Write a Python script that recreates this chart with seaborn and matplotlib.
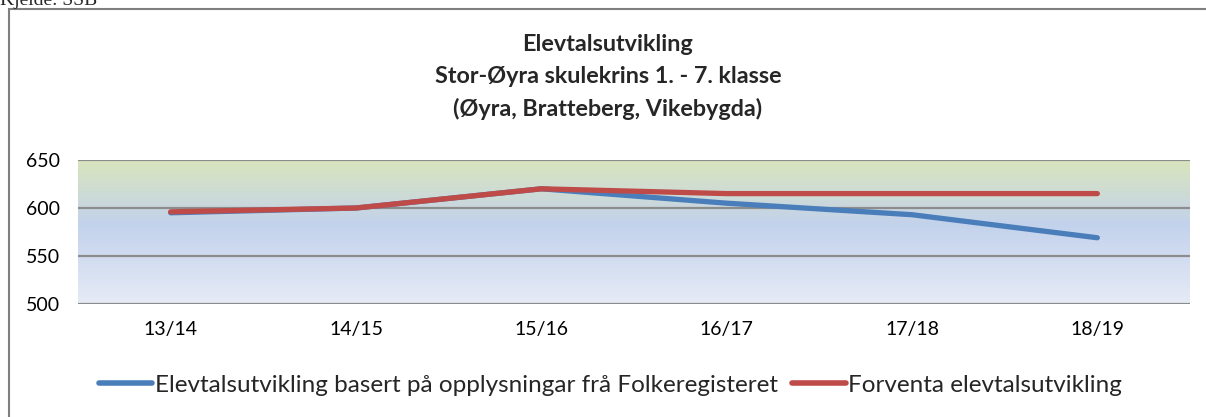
import numpy as np
import pandas as pd
import matplotlib
matplotlib.use("Agg")
import matplotlib.pyplot as plt
from matplotlib.colors import LinearSegmentedColormap
from matplotlib.patches import Rectangle
import seaborn as sns

years = ["13/14", "14/15", "15/16", "16/17", "17/18", "18/19"]
folkeregister = [595, 600, 620, 605, 593, 569]
forventa = [596, 600, 620, 615, 615, 615]
series_names = ["Elevtalsutvikling basert på opplysningar frå Folkeregisteret",
                "Forventa elevtalsutvikling"]
yticks = [500, 550, 600, 650]
title = "Elevtalsutvikling\nStor-Øyra skulekrins 1. - 7. klasse\n(Øyra, Bratteberg, Vikebygda)"
source = "Kjelde: SSB"

df = pd.DataFrame({
    "year": years * 2,
    "value": folkeregister + forventa,
    "series": [series_names[0]] * len(years) + [series_names[1]] * len(years),
})

sns.set_style("white")
plt.rcParams["font.family"] = ["Lato", "DejaVu Sans"]

fig = plt.figure(figsize=(12.06, 4.17), dpi=100)
ax = fig.add_axes([78 / 1206, 1 - 304 / 417, (1190 - 78) / 1206, (304 - 160) / 417])

# gradient background
cmap = LinearSegmentedColormap.from_list(
    "bg", [(0.0, "#e6ebf6"), (0.55, "#c3d2ec"), (1.0, "#d9e5bd")])
grad = np.linspace(0, 1, 256).reshape(-1, 1)
ax.imshow(grad, cmap=cmap, aspect="auto", origin="lower",
          extent=[-0.5, 5.5, 500, 650], zorder=0)

sns.lineplot(data=df, x="year", y="value", hue="series",
             palette=["#4a7ebb", "#be4b48"], linewidth=3.8, ax=ax,
             sort=False, zorder=3)
for ln in ax.get_lines():
    ln.set_solid_capstyle("round")

ax.set_xlim(-0.5, 5.5)
ax.set_ylim(500, 650)
ax.set_yticks(yticks)
for y in yticks:
    ax.axhline(y, color="#8c8c8c", linewidth=1.6, zorder=2)
for s in ax.spines.values():
    s.set_visible(False)
ax.tick_params(axis="both", length=0, labelsize=14, colors="#000000")
ax.tick_params(axis="y", pad=13)
ax.tick_params(axis="x", pad=12)
ax.set_xlabel("")
ax.set_ylabel("")

ax.get_legend().remove()
handles = ax.get_lines()[:2]
leg = fig.legend(handles, series_names, loc="center", bbox_to_anchor=(0.506, 1 - 385 / 417),
                 ncol=2, frameon=False, fontsize=17.5, handlelength=2.2,
                 handletextpad=0.1, columnspacing=0.6)
for h in leg.legend_handles:
    h.set_linewidth(4)
    h.set_solid_capstyle("round")

fig.text(0.504, 1 - 77 / 417, title, ha="center", va="center", fontsize=16.8,
         fontweight="bold", linespacing=1.6)

fig.text(0.0, 1 - 5 / 417, source, ha="left", va="baseline", fontsize=14,
         family="Liberation Serif")

fig.patches.append(Rectangle((9 / 1206, -0.1), 1.2, 1 - 9 / 417 + 0.1,
                             transform=fig.transFigure, fill=False,
                             edgecolor="#7f7f7f", linewidth=1.5))

fig.savefig("out.png", dpi=100)
